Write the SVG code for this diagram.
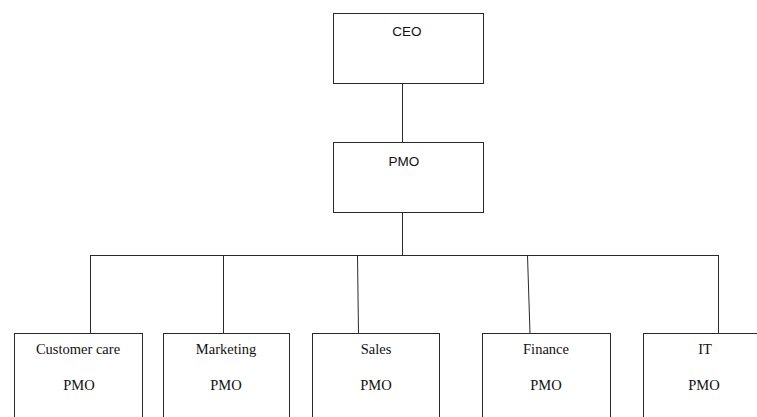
<svg xmlns="http://www.w3.org/2000/svg" width="757" height="417" viewBox="0 0 757 417">
  <style>
    .box { fill: #ffffff; stroke: #2a2a2a; stroke-width: 1; }
    .link { fill: none; stroke: #2a2a2a; stroke-width: 1; }
    .top { font-family: "Liberation Sans", "DejaVu Sans", sans-serif; font-size: 13.5px; fill: #111; text-anchor: middle; }
    .unit { font-family: "Liberation Serif", "DejaVu Serif", serif; font-size: 14.5px; fill: #111; text-anchor: middle; }
  </style>
  <rect width="757" height="417" fill="#ffffff"/>

  <g id="connectors">
    <line class="link" x1="402.5" y1="83" x2="402.5" y2="142"/>
    <line class="link" x1="402.5" y1="212" x2="402.5" y2="255.5"/>
    <line class="link" x1="90" y1="255.5" x2="719" y2="255.5"/>
    <line class="link" x1="90.5" y1="255.5" x2="90.5" y2="333.5"/>
    <line class="link" x1="223.5" y1="255.5" x2="223.5" y2="333.5"/>
    <line class="link" x1="357.5" y1="255.5" x2="358.5" y2="333.5"/>
    <line class="link" x1="527.5" y1="255.5" x2="530" y2="333.5"/>
    <line class="link" x1="718.5" y1="255.5" x2="718.5" y2="333.5"/>
  </g>

  <g id="ceo">
    <rect class="box" x="333.5" y="13.5" width="150" height="70"/>
    <text class="top" x="407" y="36">CEO</text>
  </g>

  <g id="pmo">
    <rect class="box" x="333.5" y="142.5" width="150" height="70"/>
    <text class="top" x="404" y="166">PMO</text>
  </g>

  <g id="customer-care">
    <rect class="box" x="14.5" y="333.5" width="128" height="100"/>
    <text class="unit" x="78" y="354">Customer care</text>
    <text class="unit" x="79" y="390">PMO</text>
  </g>

  <g id="marketing">
    <rect class="box" x="163.5" y="333.5" width="126" height="100"/>
    <text class="unit" x="226" y="354">Marketing</text>
    <text class="unit" x="226" y="390">PMO</text>
  </g>

  <g id="sales">
    <rect class="box" x="312.5" y="333.5" width="127" height="100"/>
    <text class="unit" x="376" y="354">Sales</text>
    <text class="unit" x="376" y="390">PMO</text>
  </g>

  <g id="finance">
    <rect class="box" x="482.5" y="333.5" width="128" height="100"/>
    <text class="unit" x="546" y="354">Finance</text>
    <text class="unit" x="546" y="390">PMO</text>
  </g>

  <g id="it">
    <rect class="box" x="643.5" y="333.5" width="124" height="100"/>
    <text class="unit" x="705" y="354">IT</text>
    <text class="unit" x="704" y="390">PMO</text>
  </g>
</svg>
